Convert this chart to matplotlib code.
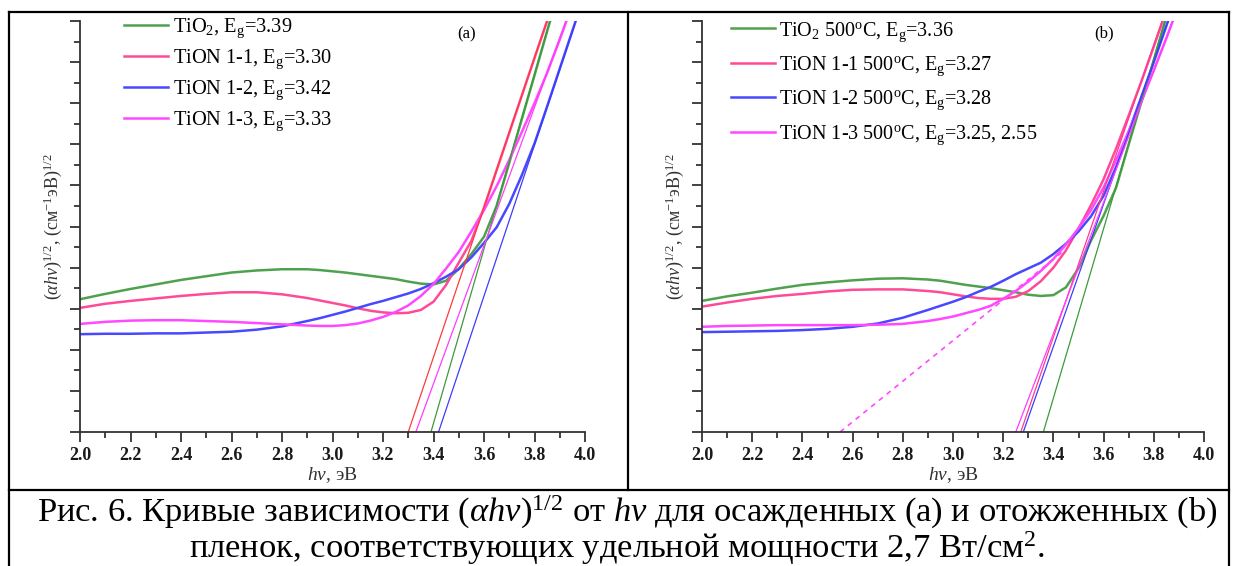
import matplotlib
matplotlib.use("Agg")
import matplotlib.pyplot as plt
from matplotlib.lines import Line2D
from matplotlib.ticker import MultipleLocator, NullFormatter

plt.rcParams['font.family'] = ['Liberation Serif', 'DejaVu Serif']
plt.rcParams['mathtext.fontset'] = 'custom'
plt.rcParams['mathtext.rm'] = 'Liberation Serif'
plt.rcParams['mathtext.it'] = 'Liberation Serif:italic'
plt.rcParams['mathtext.bf'] = 'Liberation Serif:bold'

# энергия фотона, эВ
hv = [2.0, 2.1, 2.2, 2.3, 2.4, 2.5, 2.6, 2.7, 2.8, 2.9, 2.95, 3.0, 3.05, 3.1,
      3.15, 3.2, 3.25, 3.3, 3.35, 3.4, 3.45, 3.5, 3.55, 3.6, 3.65, 3.7, 3.75,
      3.8, 3.85, 3.9, 3.95, 4.0]
xticks = [2.0, 2.2, 2.4, 2.6, 2.8, 3.0, 3.2, 3.4, 3.6, 3.8, 4.0]
xtick_labels = ['2.0', '2.2', '2.4', '2.6', '2.8', '3.0', '3.2', '3.4', '3.6',
                '3.8', '4.0']

# (a) осажденные плёнки
tio2_a = [3.23, 3.36, 3.48, 3.59, 3.70, 3.79, 3.88, 3.93, 3.96, 3.96, 3.94, 3.91,
          3.88, 3.84, 3.80, 3.76, 3.72, 3.66, 3.61, 3.59, 3.68, 3.97, 4.33, 4.75,
          5.50, 6.55, 7.62, 8.68, 9.75, 10.8]
tion11_a = [3.02, 3.12, 3.19, 3.25, 3.31, 3.36, 3.40, 3.40, 3.35, 3.26, 3.20, 3.14,
            3.08, 3.01, 2.95, 2.91, 2.89, 2.90, 2.97, 3.17, 3.58, 4.12, 4.65, 5.46,
            6.37, 7.28, 8.19, 9.10, 10.0, 10.9]
tion12_a = [2.38, 2.39, 2.39, 2.40, 2.40, 2.42, 2.44, 2.49, 2.57, 2.70, 2.77, 2.85,
            2.93, 3.02, 3.11, 3.19, 3.28, 3.37, 3.48, 3.62, 3.78, 3.96, 4.25, 4.60,
            4.98, 5.55, 6.25, 7.02, 7.92, 8.84, 9.76, 10.68]
tion13_a = [2.63, 2.68, 2.71, 2.72, 2.72, 2.70, 2.68, 2.65, 2.62, 2.59, 2.58, 2.58,
            2.60, 2.64, 2.71, 2.80, 2.92, 3.08, 3.31, 3.60, 3.98, 4.38, 4.88, 5.40,
            5.98, 6.62, 7.30, 8.00, 8.74, 9.55, 10.4]
eg_a = [3.39, 3.30, 3.42, 3.33]
top_a = [3.861, 3.849, 3.964, 3.925]
labels_a = ['TiO$_2$, E$_{\\rm g}$=3.39', 'TiON 1-1, E$_{\\rm g}$=3.30',
            'TiON 1-2, E$_{\\rm g}$=3.42', 'TiON 1-3, E$_{\\rm g}$=3.33']

# (b) отожженные при 500°C
tio2_b = [3.19, 3.30, 3.39, 3.49, 3.58, 3.64, 3.69, 3.73, 3.74, 3.71, 3.68, 3.63,
          3.58, 3.54, 3.50, 3.45, 3.40, 3.34, 3.31, 3.33, 3.52, 3.98, 4.66, 5.26,
          5.95, 7.00, 8.02, 9.05, 10.1]
tion11_b = [3.05, 3.15, 3.24, 3.31, 3.36, 3.42, 3.46, 3.47, 3.47, 3.43, 3.40, 3.35,
            3.30, 3.26, 3.24, 3.24, 3.29, 3.43, 3.67, 4.00, 4.42, 4.95, 5.52, 6.15,
            6.90, 7.70, 8.52, 9.38, 10.25]
tion12_b = [2.43, 2.44, 2.45, 2.46, 2.48, 2.51, 2.56, 2.64, 2.78, 2.97, 3.07, 3.17,
            3.28, 3.41, 3.53, 3.68, 3.84, 3.98, 4.12, 4.33, 4.58, 4.88, 5.25, 5.75,
            6.45, 7.30, 8.15, 9.00, 9.88, 10.75]
tion13_b = [2.56, 2.58, 2.59, 2.60, 2.60, 2.60, 2.60, 2.61, 2.63, 2.70, 2.75, 2.81,
            2.89, 2.97, 3.07, 3.24, 3.43, 3.66, 3.92, 4.21, 4.56, 4.96, 5.40, 5.95,
            6.62, 7.32, 8.05, 8.80, 9.58, 10.4]
eg_b = [3.36, 3.27, 3.28, 3.25]
top_b = [3.845, 3.833, 3.857, 3.876]
labels_b = ['TiO$_2$ 500$^{\\rm o}$C, E$_{\\rm g}$=3.36',
            'TiON 1-1 500$^{\\rm o}$C, E$_{\\rm g}$=3.27',
            'TiON 1-2 500$^{\\rm o}$C, E$_{\\rm g}$=3.28',
            'TiON 1-3 500$^{\\rm o}$C, E$_{\\rm g}$=3.25, 2.55']
# вторая (пунктирная) экстраполяция для TiON 1-3
eg2_x = [2.55, 3.45]
eg2_y = [0.0, 4.45]

colors = ['#4ea24e', '#ff4a98', '#4848ff', '#ff48ff']
fit_colors_a = ['#3c9a3c', '#ff3a3a', '#3c3cff', '#ff3cff']
fit_colors_b = ['#3c9a3c', '#ff3a8e', '#3c3cff', '#ff3cff']

W, H = 1234, 566
fig = plt.figure(figsize=(W / 100, H / 100), dpi=100)


def fx(px):
    return px / W


def fy(py):
    return 1 - py / H


def setup(ax):
    ax.set_xlim(2.0, 4.0)
    ax.set_ylim(0, 10)
    for s in ['top', 'right']:
        ax.spines[s].set_visible(False)
    for s in ['left', 'bottom']:
        ax.spines[s].set_color('#333333')
        ax.spines[s].set_linewidth(1.3)
    ax.set_xticks(xticks, labels=xtick_labels, fontsize=13, fontweight='bold',
                  color='#1a1a1a')
    ax.xaxis.set_minor_locator(MultipleLocator(0.1))
    ax.yaxis.set_major_locator(MultipleLocator(1))
    ax.yaxis.set_minor_locator(MultipleLocator(0.5))
    ax.yaxis.set_major_formatter(NullFormatter())
    ax.tick_params(which='major', direction='out', length=7, width=1.3,
                   color='#333333')
    ax.tick_params(which='minor', direction='out', length=4, width=1.3,
                   color='#333333')
    ax.tick_params(axis='x', pad=4)
    ax.set_xlabel('$h\\nu$, эВ', fontsize=14, labelpad=1, color='#333333')
    ax.set_ylabel('($\\alpha h\\nu$)$^{1/2}$, (см$^{-1}$эВ)$^{1/2}$',
                  fontsize=13, labelpad=1, color='#333333')


def panel(ax, curves, eg, top, labels, fit_colors, tag, legend_pos, fs, sp):
    setup(ax)
    handles = []
    for vals, c, lab in zip(curves, colors, labels):
        h, = ax.plot(hv[:len(vals)], vals, color=c, lw=1.8, label=lab)
        handles.append(h)
    for e, t, c in zip(eg, top, fit_colors):
        ax.plot([e, t], [0, 10], color=c, lw=0.9)
    ax.legend(handles=handles, loc='upper left', bbox_to_anchor=legend_pos,
              frameon=False, fontsize=fs, handlelength=2.2,
              handletextpad=0.2, labelspacing=sp, borderaxespad=0)
    ax.text(tag[0], tag[1], tag[2], transform=ax.transAxes, fontsize=12,
            ha='center', va='center')


ax_a = fig.add_axes([fx(80), fy(432), fx(585) - fx(80), fy(21) - fy(432)])
panel(ax_a, [tio2_a, tion11_a, tion12_a, tion13_a], eg_a, top_a, labels_a,
      fit_colors_a, (0.765, 0.968, '(a)'), (0.07, 1.03), 14.7, 0.37)

ax_b = fig.add_axes([fx(702), fy(432), fx(1204) - fx(702), fy(21) - fy(432)])
panel(ax_b, [tio2_b, tion11_b, tion12_b, tion13_b], eg_b, top_b, labels_b,
      fit_colors_b, (0.80, 0.97, '(b)'), (0.041, 1.022), 14.5, 0.54)
ax_b.plot(eg2_x, eg2_y, color='#ff48ff', lw=1.2, ls=(0, (3, 3)))

# рамка таблицы
frame = [([9, 9], [12, 566]), ([1229, 1229], [12, 566]), ([9, 1229], [12, 12]),
         ([628, 628], [12, 490]), ([9, 1229], [490, 490])]
for xs, ys in frame:
    fig.add_artist(Line2D([fx(v) for v in xs], [fy(v) for v in ys],
                          color='black', lw=1.6, transform=fig.transFigure))

fig.text(fx(627), fy(522),
         'Рис. 6. Кривые зависимости ($\\alpha h\\nu$)$^{1/2}$ от $h\\nu$ для '
         'осажденных (a) и отожженных (b)',
         fontsize=24.8, ha='center', va='baseline')
fig.text(fx(617), fy(558),
         'пленок, соответствующих удельной мощности 2,7 Вт/см$^2$.',
         fontsize=24.8, ha='center', va='baseline')

fig.savefig('out.png', dpi=100)
